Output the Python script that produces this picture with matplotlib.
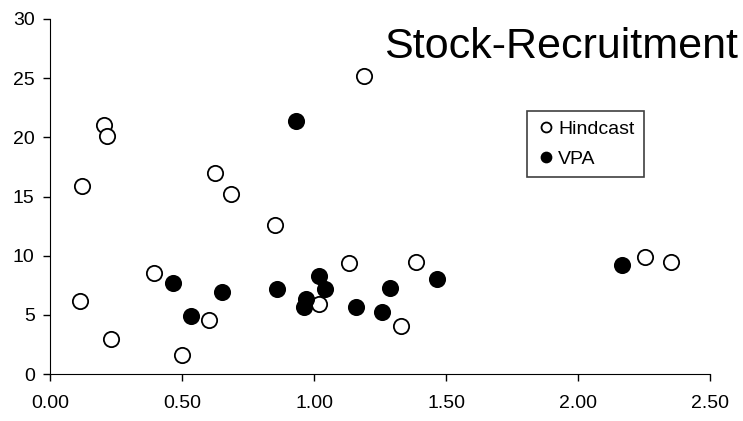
import matplotlib.pyplot as plt
import numpy as np

plt.rcParams['font.family'] = ['Liberation Sans', 'DejaVu Sans']

# Hindcast 数据
hind_x = np.array([0.205, 0.217, 0.12, 0.112, 0.231, 0.394, 0.499, 0.601, 0.626, 0.687,
                   0.852, 1.188, 1.133, 1.019, 1.330, 1.385, 2.252, 2.351])
hind_y = np.array([21.0, 20.1, 15.9, 6.2, 2.96, 8.54, 1.6, 4.6, 17.0, 15.2,
                   12.6, 25.2, 9.36, 5.94, 4.03, 9.47, 9.89, 9.5])
# VPA 数据
vpa_x = np.array([0.467, 0.534, 0.652, 0.932, 0.859, 1.019, 1.042, 0.970, 0.962,
                  1.159, 1.256, 1.288, 1.465, 2.167])
vpa_y = np.array([7.7, 4.9, 6.9, 21.4, 7.16, 8.28, 7.16, 6.34, 5.64,
                  5.66, 5.27, 7.3, 8.0, 9.24])

xticks = np.arange(0, 2.51, 0.5)
xtick_labels = ['%.2f' % v for v in xticks]
yticks = np.arange(0, 31, 5)

fig = plt.figure(figsize=(7.43, 4.21), dpi=100)
ax = fig.add_axes([0.0673, 0.1116, 0.8883, 0.8433])

ax.plot(hind_x, hind_y, 'o', ms=11, mfc='white', mec='black', mew=1.3, label='Hindcast')
ax.plot(vpa_x, vpa_y, 'o', ms=11, mfc='black', mec='black', mew=1.3, label='VPA')

ax.set_xlim(0, 2.5)
ax.set_ylim(0, 30)
ax.set_xticks(xticks)
ax.set_xticklabels(xtick_labels)
ax.set_yticks(yticks)
ax.tick_params(labelsize=14, direction='out', length=5, width=1)
ax.tick_params(axis='x', pad=10)
ax.tick_params(axis='y', pad=6)
ax.spines['top'].set_visible(False)
ax.spines['right'].set_visible(False)

# 标题放在图内右上角
fig.text(0.993, 0.888, 'Stock-Recruitment', ha='right', va='center', fontsize=31)

leg = ax.legend(loc='upper left', bbox_to_anchor=(0.7227, 0.741), fontsize=14,
                markerscale=0.65, handletextpad=0.1, handlelength=1.0,
                fancybox=False, edgecolor='#404040', framealpha=1,
                borderpad=0.5, labelspacing=0.6, borderaxespad=0)
leg.get_frame().set_linewidth(1.2)

plt.savefig('out.png')
